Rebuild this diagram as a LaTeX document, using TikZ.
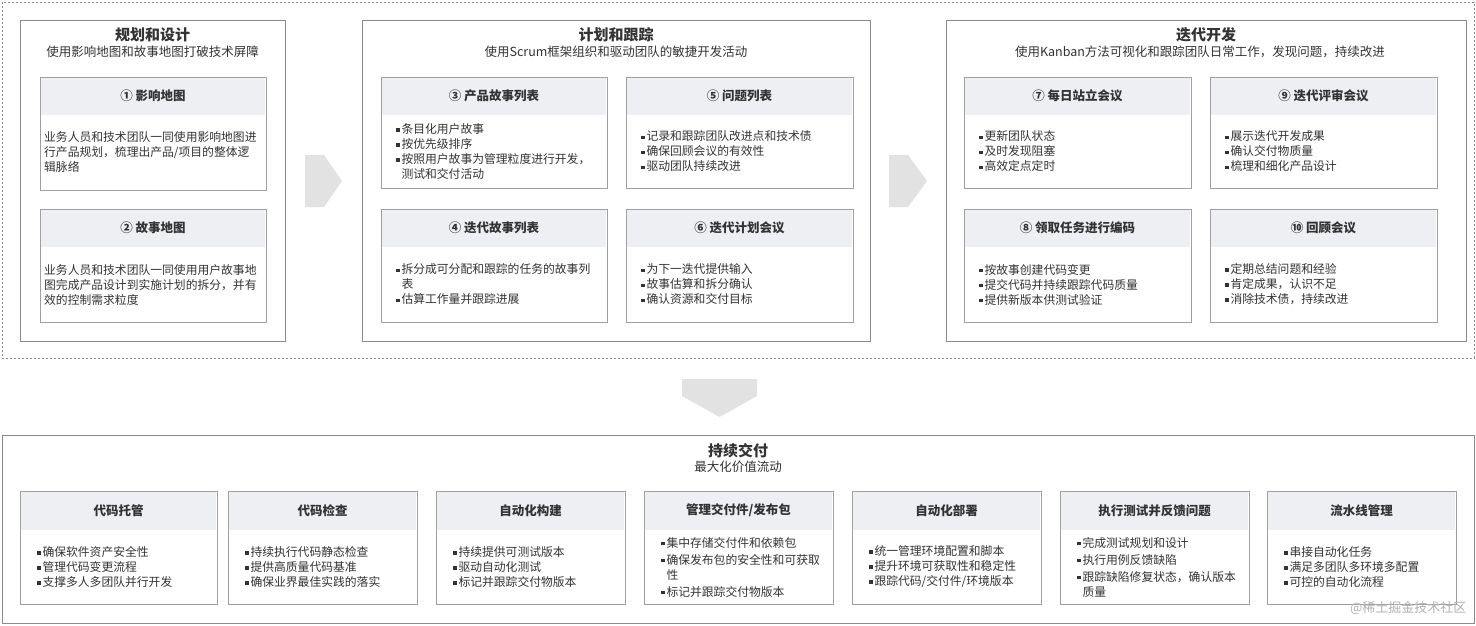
\documentclass[tikz,border=0pt]{standalone}
\usepackage{fontspec}
\setmainfont{Noto Sans CJK SC}
\XeTeXlinebreaklocale "zh"
\XeTeXlinebreakskip=0pt plus 1pt
\usetikzlibrary{shadows}
\definecolor{bd}{HTML}{8A8A8A}
\definecolor{cb}{HTML}{A0A0A0}
\definecolor{hd}{HTML}{EEEFF3}
\definecolor{tx}{HTML}{333333}
\definecolor{ar}{HTML}{E2E2E2}
\newcommand\bu{\rule[0.3ex]{0.3em}{0.3em}\hspace{0.15em}}
\newcommand\ind{\hspace*{0.45em}}
\tikzset{
  box/.style={draw=bd,line width=0.8pt,fill=white},
  cardb/.style={draw=cb,line width=0.8pt,fill=white,drop shadow={opacity=0.15,shadow xshift=1pt,shadow yshift=-1pt}},
  ttl/.style={font=\fontsize{15}{17}\selectfont\bfseries,text=tx},
  sub/.style={font=\fontsize{12.5}{14}\selectfont,text=tx},
  ctt/.style={font=\fontsize{12.5}{14}\selectfont\bfseries,text=tx},
  body/.style={font=\fontsize{11.8}{15}\selectfont,text=tx,align=left,inner sep=0pt},
}
\newcommand\mycard[9]{%
  \draw[cardb] (#2,#3) rectangle ++(#4,#5);
  \fill[hd] ({#2+0.6},{#3+0.6}) rectangle ({#2+#4-0.6},{#3+#6});
  \node[ctt] (#1t) at ({#2+#4/2},{#3+#6/2}) {#7};
  \node[body,text width={(#4-#9-4)*1pt},anchor=west] (#1b) at ({#2+#9},{#3+#6+(#5-#6)/2}) {#8};
}
\begin{document}
\begin{tikzpicture}[x=1pt,y=-1pt]
\useasboundingbox (0,0) rectangle (1476,625);
\fill[white] (0,0) rectangle (1476,625);
\draw[bd,dashed,dash pattern=on 2pt off 2pt,line width=0.6pt] (2,2) rectangle (1474,358);
\draw[box] (20,20) rectangle (285,341);
\node[ttl] (t1) at (152.5,35) {规划和设计};
\node[sub] (s1) at (152.5,52) {使用影响地图和故事地图打破技术屏障};
\draw[box] (362,20) rectangle (870,341);
\node[ttl] (t2) at (616,35) {计划和跟踪};
\node[sub] (s2) at (616,52) {使用Scrum框架组织和驱动团队的敏捷开发活动};
\draw[box] (946,20) rectangle (1466,341);
\node[ttl] (t3) at (1206,35) {迭代开发};
\node[sub] (s3) at (1200,52) {使用Kanban方法可视化和跟踪团队日常工作，发现问题，持续改进};
\mycard{c1}{40}{77}{226}{113}{38}{① 影响地图}{业务人员和技术团队一同使用影响地图进\\行产品规划，梳理出产品/项目的整体逻\\辑脉络}{4}
\mycard{c2}{40}{209}{226}{113}{38}{② 故事地图}{业务人员和技术团队一同使用用户故事地\\图完成产品设计到实施计划的拆分，并有\\效的控制需求粒度}{4}
\mycard{c3}{381}{77}{226}{111}{38}{③ 产品故事列表}{\bu 条目化用户故事\\\bu 按优先级排序\\\bu 按照用户故事为管理粒度进行开发，\\\ind 测试和交付活动}{15}
\mycard{c5}{626}{77}{227}{111}{38}{⑤ 问题列表}{\bu 记录和跟踪团队改进点和技术债\\\bu 确保回顾会议的有效性\\\bu 驱动团队持续改进}{15}
\mycard{c4}{381}{209}{226}{113}{38}{④ 迭代故事列表}{\bu 拆分成可分配和跟踪的任务的故事列\\\ind 表\\\bu 估算工作量并跟踪进展}{15}
\mycard{c6}{626}{209}{227}{113}{38}{⑥ 迭代计划会议}{\bu 为下一迭代提供输入\\\bu 故事估算和拆分确认\\\bu 确认资源和交付目标}{15}
\mycard{c7}{964}{77}{227}{111}{38}{⑦ 每日站立会议}{\bu 更新团队状态\\\bu 及时发现阻塞\\\bu 高效定点定时}{15}
\mycard{c9}{1210}{77}{227}{111}{38}{⑨ 迭代评审会议}{\bu 展示迭代开发成果\\\bu 确认交付物质量\\\bu 梳理和细化产品设计}{15}
\mycard{c8}{964}{209}{227}{113}{38}{⑧ 领取任务进行编码}{\bu 按故事创建代码变更\\\bu 提交代码并持续跟踪代码质量\\\bu 提供新版本供测试验证}{15}
\mycard{c10}{1210}{209}{227}{113}{38}{⑩ 回顾会议}{\bu 定期总结问题和经验\\\bu 肯定成果，认识不足\\\bu 消除技术债，持续改进}{15}
\fill[ar] (305,155) -- (324,155) -- (342,181) -- (324,207) -- (305,207) -- cycle;
\fill[ar] (889,155) -- (908,155) -- (927,181) -- (908,207) -- (889,207) -- cycle;
\fill[ar] (682,379) -- (757,379) -- (757,396) -- (719.5,417) -- (682,396) -- cycle;
\draw[box] (2,435) rectangle (1474,623);
\node[ttl] (t4) at (738,451) {持续交付};
\node[sub] (s4) at (738,467) {最大化价值流动};
\mycard{d1}{20}{491}{197}{113}{39}{代码托管}{\bu 确保软件资产安全性\\\bu 管理代码变更流程\\\bu 支撑多人多团队并行开发}{17}
\mycard{d2}{228}{491}{189}{113}{39}{代码检查}{\bu 持续执行代码静态检查\\\bu 提供高质量代码基准\\\bu 确保业界最佳实践的落实}{17}
\mycard{d3}{436}{491}{189}{113}{39}{自动化构建}{\bu 持续提供可测试版本\\\bu 驱动自动化测试\\\bu 标记并跟踪交付物版本}{17}
\mycard{d4}{644}{491}{189}{113}{39}{管理交付件/发布包}{\bu 集中存储交付件和依赖包\\[2pt]\bu 确保发布包的安全性和可获取\\\ind 性\\[2pt]\bu 标记并跟踪交付物版本}{17}
\mycard{d5}{852}{491}{189}{113}{39}{自动化部署}{\bu 统一管理环境配置和脚本\\\bu 提升环境可获取性和稳定性\\\bu 跟踪代码/交付件/环境版本}{17}
\mycard{d6}{1060}{491}{189}{113}{39}{执行测试并反馈问题}{\bu 完成测试规划和设计\\[2pt]\bu 执行用例反馈缺陷\\[2pt]\bu 跟踪缺陷修复状态，确认版本\\\ind 质量}{17}
\mycard{d7}{1267}{491}{189}{113}{39}{流水线管理}{\bu 串接自动化任务\\\bu 满足多团队多环境多配置\\\bu 可控的自动化流程}{17}
\node[font=\fontsize{13}{15}\selectfont,text=black!30,anchor=east] (wm) at (1470,608) {@稀土掘金技术社区};
\end{tikzpicture}
\end{document}
